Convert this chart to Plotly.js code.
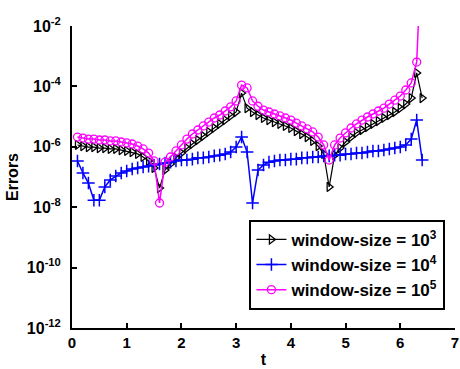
<!DOCTYPE html>
<html>
<head>
<meta charset="utf-8">
<script src="https://cdn.plot.ly/plotly-3.0.1.min.js"></script>
<style>html,body{margin:0;padding:0;background:#fff;}#chart{width:460px;height:369px;}</style>
</head>
<body>
<div id="chart"></div>
<script>
var t = [0.1,0.2,0.3,0.4,0.5,0.6,0.7,0.8,0.9,1.0,1.1,1.2,1.3,1.4,1.5,1.6,1.7,1.8,1.9,2.0,2.1,2.2,2.3,2.4,2.5,2.6,2.7,2.8,2.9,3.0,3.1,3.2,3.3,3.4,3.5,3.6,3.7,3.8,3.9,4.0,4.1,4.2,4.3,4.4,4.5,4.6,4.7,4.8,4.9,5.0,5.1,5.2,5.3,5.4,5.5,5.6,5.7,5.8,5.9,6.0,6.1,6.2,6.3,6.4];

var err1e3 = [1.15e-6,1.06e-6,9.8e-7,9.8e-7,9.1e-7,9.1e-7,8.5e-7,8.5e-7,7.8e-7,7.3e-7,6.7e-7,5.8e-7,4.6e-7,3.4e-7,2.0e-7,4.3e-8,1.7e-7,2.7e-7,4.3e-7,6.2e-7,9.1e-7,1.24e-6,1.68e-6,2.28e-6,3.1e-6,4.2e-6,5.7e-6,7.7e-6,1.05e-5,1.42e-5,6.0e-5,1.9e-5,1.42e-5,1.13e-5,9.0e-6,7.7e-6,6.6e-6,5.7e-6,4.9e-6,4.2e-6,3.3e-6,2.65e-6,2.1e-6,1.56e-6,1.06e-6,5.8e-7,4.7e-8,5.3e-7,9.1e-7,1.44e-6,2.1e-6,2.9e-6,3.6e-6,4.5e-6,5.7e-6,7.1e-6,9.0e-6,1.13e-5,1.42e-5,1.9e-5,2.6e-5,4.1e-5,2.8e-4,4.1e-5];

var err1e4 = [3.4e-7,1.36e-7,6.3e-8,1.7e-8,1.7e-8,4.7e-8,8.0e-8,1.08e-7,1.36e-7,1.58e-7,1.84e-7,2.0e-7,2.14e-7,2.3e-7,2.5e-7,2.7e-7,2.9e-7,3.1e-7,3.4e-7,3.65e-7,3.65e-7,3.9e-7,4.3e-7,4.3e-7,4.6e-7,5.0e-7,5.3e-7,5.8e-7,6.7e-7,9.8e-7,2.1e-6,6.7e-7,1.38e-8,1.7e-7,2.5e-7,3.1e-7,3.4e-7,3.65e-7,3.65e-7,3.9e-7,3.9e-7,4.3e-7,4.3e-7,4.6e-7,4.6e-7,5.0e-7,5.0e-7,5.3e-7,5.3e-7,5.8e-7,5.8e-7,6.2e-7,6.2e-7,6.7e-7,7.3e-7,7.3e-7,7.8e-7,8.5e-7,9.1e-7,9.8e-7,1.15e-6,1.8e-6,7.7e-6,3.65e-7];

var err1e5 = [2.1e-6,1.95e-6,1.8e-6,1.8e-6,1.68e-6,1.68e-6,1.56e-6,1.56e-6,1.44e-6,1.34e-6,1.24e-6,1.06e-6,8.5e-7,6.2e-7,3.4e-7,1.38e-8,3.1e-7,4.6e-7,7.3e-7,1.15e-6,1.8e-6,2.65e-6,3.6e-6,4.9e-6,6.6e-6,9.0e-6,1.13e-5,1.53e-5,2.1e-5,3.3e-5,1.1e-4,8.9e-5,3.3e-5,2.2e-5,1.65e-5,1.42e-5,1.22e-5,1.05e-5,9.0e-6,7.7e-6,6.1e-6,4.9e-6,3.9e-6,3.1e-6,2.1e-6,1.15e-6,3.65e-7,1.15e-6,1.95e-6,2.9e-6,4.2e-6,5.7e-6,7.7e-6,9.7e-6,1.22e-5,1.53e-5,1.9e-5,2.6e-5,3.5e-5,4.8e-5,7.6e-5,1.3e-4,6.4e-4,10];

var seriesNames = ['window-size = 10<sup>3</sup>','window-size = 10<sup>4</sup>','window-size = 10<sup>5</sup>'];
var xTicks = [0,1,2,3,4,5,6,7];
var yTickVals = [1e-12,1e-10,1e-8,1e-6,1e-4,1e-2];
var yTickText = ['10<sup>-12</sup>','10<sup>-10</sup>','10<sup>-8</sup>','10<sup>-6</sup>','10<sup>-4</sup>','10<sup>-2</sup>'];

var FONT = 'Liberation Sans, Arial, Helvetica, sans-serif';

var traces = [
  {x:t, y:err1e3, name:seriesNames[0], type:'scatter', mode:'lines+markers', legendgroup:'a',
   line:{color:'#000000', width:1.2},
   marker:{symbol:'triangle-right-open', size:8, color:'#000000', line:{width:1.3, color:'#000000'}}},
  {x:t, y:err1e4, name:seriesNames[1], type:'scatter', mode:'lines+markers', legendgroup:'b',
   line:{color:'#0000ff', width:1.5},
   marker:{symbol:'cross-thin-open', size:9, color:'#0000ff', line:{width:1.5, color:'#0000ff'}}},
  {x:t, y:err1e5, name:seriesNames[2], type:'scatter', mode:'lines+markers', legendgroup:'c',
   line:{color:'#ff00ff', width:1.5},
   marker:{symbol:'circle-open', size:8, color:'#ff00ff', line:{width:1.3, color:'#ff00ff'}}}
];

var layout = {
  width:460, height:369,
  margin:{l:72, r:5, t:26, b:41, pad:0},
  paper_bgcolor:'#ffffff', plot_bgcolor:'#ffffff',
  font:{family:FONT, size:14, color:'#000000', weight:'bold'},
  showlegend:true,
  legend:{x:0.975, y:0.06, xanchor:'right', yanchor:'bottom',
    bordercolor:'#000000', borderwidth:2, bgcolor:'#ffffff',
    font:{family:FONT, size:17, color:'#000000', weight:'bold'},
    tracegroupgap:0, traceorder:'grouped', itemwidth:30},
  xaxis:{range:[0,7], tickvals:xTicks, ticktext:xTicks.map(String),
    showline:true, linecolor:'#000000', linewidth:2, mirror:false,
    ticks:'inside', ticklen:5, tickwidth:2, tickcolor:'#000000',
    showgrid:false, zeroline:false,
    tickfont:{family:FONT, size:15, color:'#000000', weight:'bold'},
    title:{text:'t', font:{family:FONT, size:16, color:'#000000', weight:'bold'}, standoff:4}},
  yaxis:{type:'log', range:[-12,-2], tickvals:yTickVals, ticktext:yTickText,
    showline:true, linecolor:'#000000', linewidth:2, mirror:false,
    ticks:'inside', ticklen:5, tickwidth:2, tickcolor:'#000000',
    showgrid:false, zeroline:false, ticklabelstandoff:6,
    tickfont:{family:FONT, size:16, color:'#000000', weight:'bold'},
    title:{text:'Errors', font:{family:FONT, size:16, color:'#000000', weight:'bold'}, standoff:4}}
};

Plotly.newPlot('chart', traces, layout, {displayModeBar:false, staticPlot:true});
</script>
</body>
</html>
